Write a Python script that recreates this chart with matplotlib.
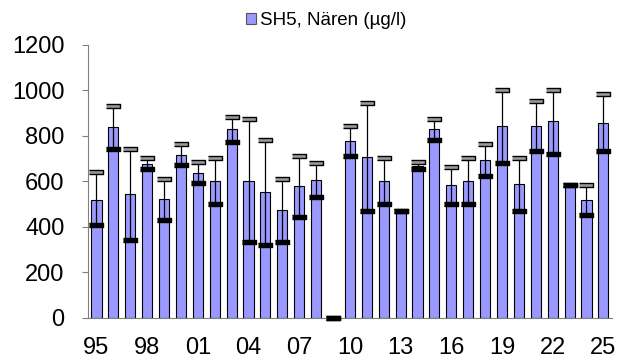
import matplotlib.pyplot as plt
import numpy as np

years = ['95', '96', '97', '98', '99', '00', '01', '02', '03', '04',
         '05', '06', '07', '08', '09', '10', '11', '12', '13', '14',
         '15', '16', '17', '18', '19', '20', '21', '22', '23', '24', '25']
mean_vals = [520, 838, 544, 678, 521, 718, 637, 604, 829, 604,
             552, 473, 579, 608, 0, 778, 709, 604, 472, 668,
             829, 583, 604, 693, 843, 587, 843, 864, 583, 517, 859]
max_vals = [640, 933, 743, 703, 612, 763, 684, 703, 883, 875,
            784, 612, 712, 683, 0, 843, 945, 703, 472, 684,
            873, 664, 703, 763, 1004, 703, 954, 1004, 583, 583, 985]
min_vals = [407, 743, 343, 653, 432, 674, 593, 503, 774, 333,
            322, 333, 443, 532, 0, 712, 472, 503, 472, 653,
            784, 503, 503, 622, 683, 472, 733, 722, 583, 453, 733]
tick_labels = ['95', '98', '01', '04', '07', '10', '13', '16', '19', '22', '25']

plt.rcParams['font.family'] = ['Liberation Sans', 'DejaVu Sans']

fig = plt.figure(figsize=(6.18, 3.64), dpi=100)
ax = fig.add_axes([0.1424, 0.1264, 0.8476, 0.75])

x = np.arange(len(years))
ax.bar(x, mean_vals, width=0.6, color='#9999FF', edgecolor='black',
       linewidth=0.8, label='SH5, Nären (µg/l)', zorder=2)
ax.vlines(x, min_vals, max_vals, color='black', linewidth=0.9, zorder=3)

# caps: grey = max, black = min
cap = [(-3.5, -1), (3.5, -1), (3.5, 1), (-3.5, 1)]
ax.plot(x, max_vals, linestyle='none', marker=cap, markersize=10,
        markerfacecolor='#999999', markeredgecolor='black',
        markeredgewidth=1, zorder=4, clip_on=False)
ax.plot(x, min_vals, linestyle='none', marker=cap, markersize=10,
        markerfacecolor='black', markeredgecolor='black',
        markeredgewidth=1, zorder=5, clip_on=False)

ax.set_xlim(-0.5, len(years) - 0.5)
ax.set_ylim(0, 1200)
ax.set_yticks(range(0, 1201, 200))
ax.set_xticks(range(0, len(years), 3))
ax.set_xticklabels(tick_labels)
ax.tick_params(axis='y', labelsize=17, length=4.5, color='#808080', pad=12.5)
ax.tick_params(axis='x', labelsize=17, length=0, pad=14)

for side in ['top', 'right']:
    ax.spines[side].set_visible(False)
ax.spines['left'].set_color('#808080')
ax.spines['bottom'].set_color('#808080')

leg = fig.legend(loc='center', bbox_to_anchor=(0.5275, 0.944), fontsize=13.5,
                 frameon=False, handlelength=0.55, handleheight=0.55,
                 handletextpad=0.2, borderaxespad=0)
leg.get_patches()[0].set_edgecolor('#555555')

fig.savefig('out.png', dpi=100)
